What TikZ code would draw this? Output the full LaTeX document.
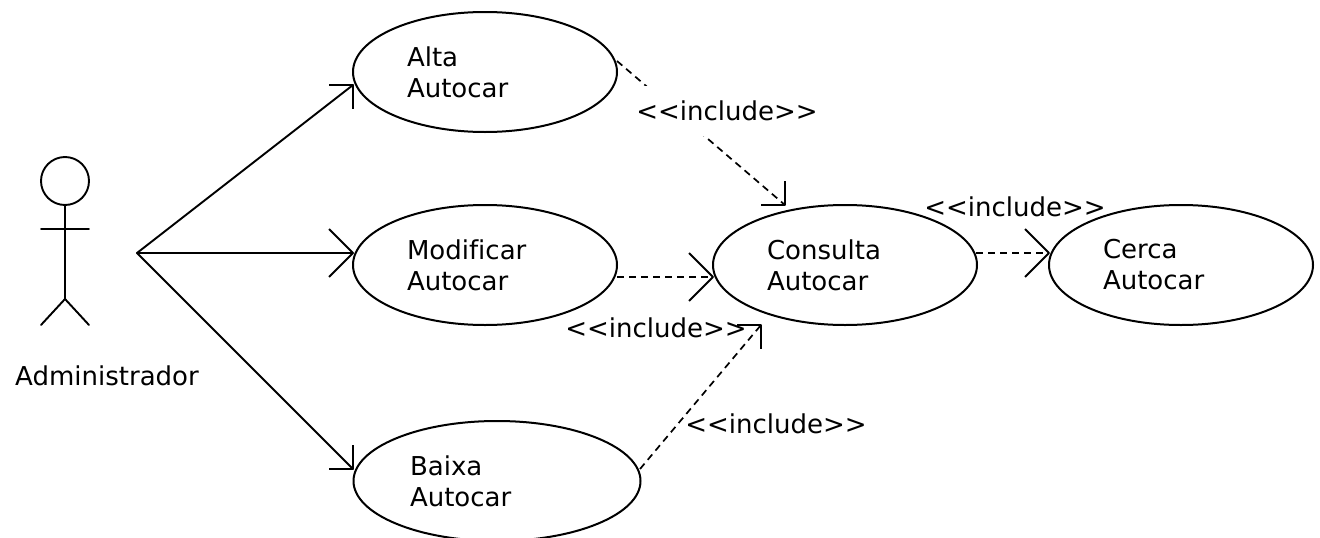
\documentclass[tikz,border=0pt]{standalone}
\usepackage{fontspec}
\setmainfont[Ligatures=NoCommon]{DejaVu Sans}
\usetikzlibrary{shapes.geometric}
\newcommand{\incl}{{<}{<}include{>}{>}}
\tikzset{
  x=1pt,y=-1pt,
  usecase/.style={draw,ellipse,inner sep=0pt,outer sep=0pt,minimum width=264pt,minimum height=120pt,line width=2pt},
  wide/.style={minimum width=287pt},
  txt/.style={inner sep=0pt,outer sep=0pt,font=\fontsize{26}{31}\selectfont},
  caption/.style={txt,align=left,anchor=west},
  stereo/.style={txt,anchor=center},
  link/.style={line width=1.9pt,line cap=round,line join=miter},
  dep/.style={line width=1.7pt,dash pattern=on 7pt off 5pt},
  barb/.style={line width=1.9pt,line join=round}
}
\begin{document}
\begin{tikzpicture}
\useasboundingbox (0,0) rectangle (1320,538);
\clip (0,0) rectangle (1320,538);
% actor
\node[draw,circle,minimum size=48pt,inner sep=0pt,outer sep=0pt,line width=1.9pt] (head) at (65,181) {};
\coordinate (hip) at (65,299);
\coordinate (armL) at (41,229);
\coordinate (armR) at (89,229);
\coordinate (legL) at (41,325);
\coordinate (legR) at (89,325);
\draw[link] (head.south) -- (hip) (armL) -- (armR) (legL) -- (hip) -- (legR);
\node[txt,anchor=center] (actor) at (107,376) {Administrador};
% use cases
\node[usecase] (alta) at (485,72) {};
\node[usecase] (modi) at (485,265) {};
\node[usecase,wide] (baixa) at (497,481) {};
\node[usecase] (cons) at (845,265) {};
\node[usecase] (cerca) at (1181,265) {};
\node[caption] (talta) at (407,72) {Alta\\Autocar};
\node[caption] (tmodi) at (407,265) {Modificar\\Autocar};
\node[caption] (tbaixa) at (410,481) {Baixa\\Autocar};
\node[caption] (tcons) at (767,265) {Consulta\\Autocar};
\node[caption] (tcerca) at (1103,265) {Cerca\\Autocar};
% association ends
\coordinate (src) at (137,253);
\coordinate (ta) at (353,85);
\coordinate (tm) at (353,253);
\coordinate (tb) at (353,469);
\draw[link] (src) -- (ta);
\draw[link] (src) -- (tm);
\draw[link] (src) -- (tb);
\draw[barb] ([xshift=-24pt]ta) -- (ta) -- ([yshift=-24pt]ta);
\draw[barb] ([xshift=-24pt,yshift=24pt]tm) -- (tm) -- ([xshift=-24pt,yshift=-24pt]tm);
\draw[barb] ([yshift=24pt]tb) -- (tb) -- ([xshift=-24pt]tb);
% include ends
\coordinate (s1) at (617,61);
\coordinate (e1) at (785,205);
\coordinate (s2) at (617,277);
\coordinate (e2) at (713,277);
\coordinate (s3) at (640,469);
\coordinate (e3) at (761,325);
\coordinate (s4) at (976,253);
\coordinate (e4) at (1049,253);
\draw[dep] (s1) -- (e1);
\draw[dep] (s2) -- (e2);
\draw[dep] (s3) -- (e3);
\draw[dep] (s4) -- (e4);
\draw[barb] ([yshift=24pt]e1) -- (e1) -- ([xshift=-24pt]e1);
\draw[barb] ([xshift=-24pt,yshift=-24pt]e2) -- (e2) -- ([xshift=-24pt,yshift=24pt]e2);
\draw[barb] ([xshift=-24pt]e3) -- (e3) -- ([yshift=-24pt]e3);
\draw[barb] ([xshift=-24pt,yshift=-24pt]e4) -- (e4) -- ([xshift=-24pt,yshift=24pt]e4);
% stereotypes
\node[stereo,fill=white,minimum height=50pt,minimum width=180pt] (l1) at (727,111) {\incl};
\node[stereo] (l2) at (656,328) {\incl};
\node[stereo] (l3) at (776,424) {\incl};
\node[stereo] (l4) at (1015,207) {\incl};
\end{tikzpicture}
\end{document}
